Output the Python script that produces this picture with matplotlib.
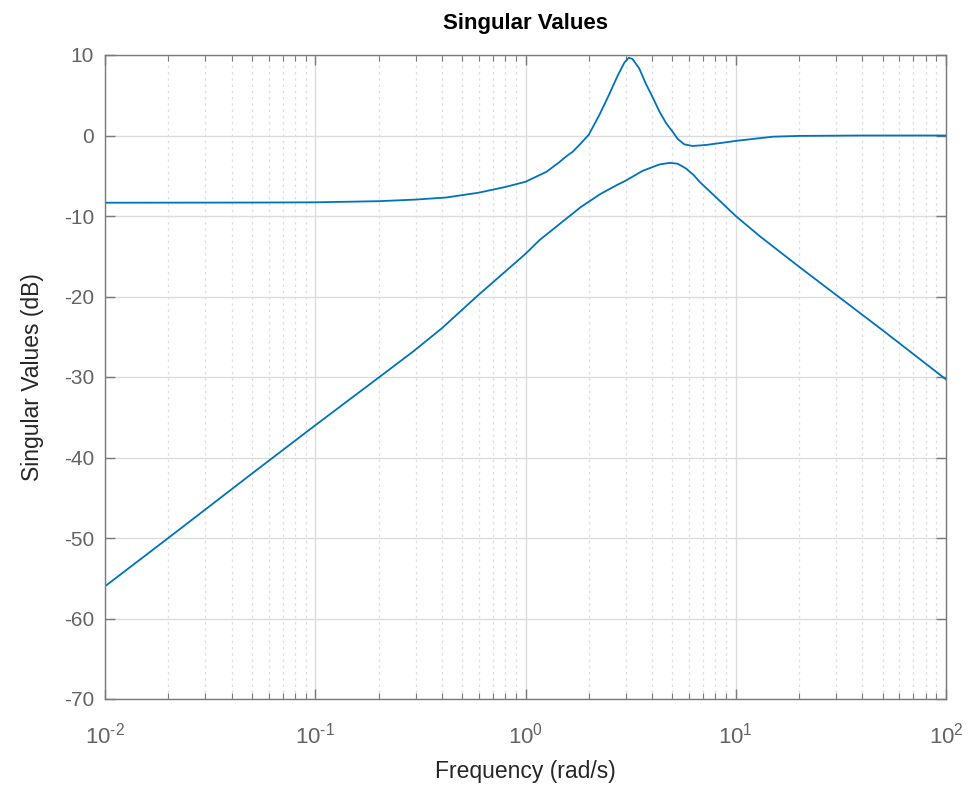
import matplotlib
matplotlib.use("Agg")
import matplotlib.pyplot as plt
import numpy as np
from matplotlib.ticker import LogLocator, NullFormatter, FuncFormatter

# ---- data ----
freq_upper = [0.01, 0.05, 0.1, 0.2, 0.3, 0.42, 0.6, 0.8, 1.0, 1.26, 1.45, 1.57, 1.68, 1.83, 2.0,
              2.25, 2.5, 2.74, 2.96, 3.1, 3.23, 3.48, 3.74, 4.0, 4.33, 4.66, 5.0, 5.29,
              5.69, 6.23, 7.2, 9.0, 10, 15, 20, 40, 100]
sv_upper = [-8.35, -8.33, -8.3, -8.16, -7.96, -7.7, -7.1, -6.4, -5.75, -4.5, -3.3, -2.55, -2.0, -1.0, 0.1,
            2.6, 5.1, 7.4, 9.1, 9.66, 9.5, 8.3, 6.4, 4.9, 3.0, 1.55, 0.5, -0.42,
            -1.1, -1.3, -1.18, -0.84, -0.67, -0.15, -0.05, 0.0, 0.0]

freq_lower = [0.01, 0.02, 0.05, 0.1, 0.202, 0.295, 0.402, 0.586, 1.0, 1.165, 1.83, 2.26, 2.7,
              3.0, 3.6, 4.04, 4.33, 4.85, 5.29, 5.8, 6.3, 6.76, 8.0, 10, 13, 20, 50, 100]
sv_lower = [-56.0, -50.0, -42.0, -36.0, -30.0, -26.75, -23.9, -20.0, -14.7, -13.0, -8.9, -7.3, -6.2,
            -5.6, -4.4, -3.9, -3.6, -3.4, -3.5, -4.1, -4.9, -5.8, -7.6, -10.0, -12.5, -16.3, -24.2, -30.3]

y_ticks = [10, 0, -10, -20, -30, -40, -50, -60, -70]
title = "Singular Values"
xlabel = "Frequency (rad/s)"
ylabel = "Singular Values (dB)"

plt.rcParams['font.family'] = ['Liberation Sans', 'DejaVu Sans']
plt.rcParams['axes.unicode_minus'] = False
plt.rcParams['mathtext.fontset'] = 'custom'
plt.rcParams['mathtext.rm'] = 'Liberation Sans'
plt.rcParams['mathtext.it'] = 'Liberation Sans:italic'
plt.rcParams['mathtext.default'] = 'regular'

fig = plt.figure(figsize=(9.72, 7.87), dpi=100)
ax = fig.add_axes([105/972, 1-699/787, (946-105)/972, (699-55)/787])

line_color = '#0072BD'
ax.plot(freq_upper, sv_upper, color=line_color, lw=1.3)
ax.plot(freq_lower, sv_lower, color=line_color, lw=1.3)

ax.set_xscale('log')
ax.set_xlim(1e-2, 1e2)
ax.set_ylim(-70, 10)
ax.set_yticks(y_ticks)
ax.xaxis.set_major_locator(LogLocator(base=10, numticks=10))
ax.xaxis.set_minor_locator(LogLocator(base=10, subs=range(2, 10), numticks=20))
ax.xaxis.set_minor_formatter(NullFormatter())


def fmt_pow(v, pos):
    e = int(round(np.log10(v)))
    if e < 0:
        return r'$10^{\text{-}%d}$' % (-e)
    return r'$10^{%d}$' % e


ax.xaxis.set_major_formatter(FuncFormatter(fmt_pow))

tick_col = '#636363'
spine_col = '#7a7a7a'
for s in ax.spines.values():
    s.set_color(spine_col)
    s.set_linewidth(1.0)

ax.tick_params(axis='both', which='both', direction='in', top=True, right=True,
               colors=spine_col, labelcolor=tick_col, labelsize=15)
ax.tick_params(axis='both', which='major', length=7, width=1.0)
ax.tick_params(axis='x', which='minor', length=4, width=0.8)
ax.tick_params(axis='y', which='major', pad=8)
ax.tick_params(axis='x', which='major', labelsize=16, pad=17)

ax.grid(True, which='major', color='#dcdcdc', lw=1.0, ls='-')
ax.grid(True, which='minor', axis='x', color='#dedede', lw=0.9, ls=(0, (2, 3)))
ax.set_axisbelow(True)

ax.set_title(title, fontsize=16, fontweight='bold', color='#000000', pad=19)
ax.set_xlabel(xlabel, fontsize=16.5, color='#262626', labelpad=8)
ax.set_ylabel(ylabel, fontsize=16.5, color='#262626', labelpad=14)

fig.savefig('out.png', dpi=100, facecolor='white')
